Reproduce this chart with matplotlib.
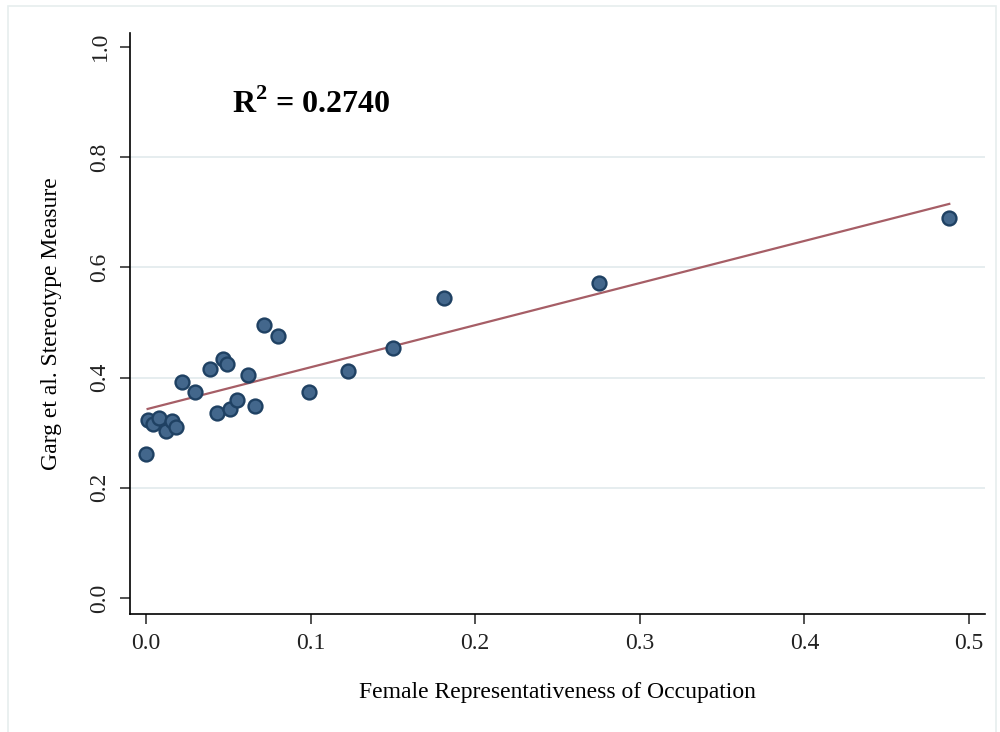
import matplotlib
matplotlib.use("Agg")
import matplotlib.pyplot as plt
from matplotlib.patches import Rectangle

# Data
female_share = [0.000, 0.001, 0.004, 0.008, 0.012, 0.016, 0.018, 0.022, 0.030,
                0.039, 0.043, 0.047, 0.049, 0.051, 0.055, 0.062, 0.066, 0.072,
                0.080, 0.099, 0.123, 0.150, 0.181, 0.275, 0.488]
stereotype = [0.261, 0.323, 0.316, 0.327, 0.303, 0.321, 0.310, 0.392, 0.374,
              0.416, 0.336, 0.434, 0.425, 0.343, 0.359, 0.405, 0.348, 0.495,
              0.475, 0.374, 0.412, 0.454, 0.544, 0.572, 0.690]
fit_x = [0.001, 0.488]
fit_y = [0.343, 0.715]
x_ticks = [0.0, 0.1, 0.2, 0.3, 0.4, 0.5]
y_ticks = [0.0, 0.2, 0.4, 0.6, 0.8, 1.0]
grid_y = [0.2, 0.4, 0.6, 0.8]

plt.rcParams['font.family'] = ['Liberation Serif', 'DejaVu Serif']
plt.rcParams['mathtext.fontset'] = 'custom'
plt.rcParams['mathtext.rm'] = 'Liberation Serif'
plt.rcParams['mathtext.bf'] = 'Liberation Serif:bold'

fig = plt.figure(figsize=(10, 7.32), dpi=100)
fig.patches.append(Rectangle((8/1000, -0.01), (996-8)/1000, 1 - 6/732 + 0.01,
                             transform=fig.transFigure, fill=False,
                             edgecolor='#e6eeee', linewidth=1.2))

ax = fig.add_axes([0.13, 0.1612, 0.855, 0.7937])
ax.set_xlim(-0.0097, 0.5097)
ax.set_ylim(-0.029, 1.025)

for g in grid_y:
    ax.axhline(g, color='#e4ecee', linewidth=1.3, zorder=0)

ax.plot(fit_x, fit_y, color='#a65e66', linewidth=1.6, zorder=2)
ax.scatter(female_share, stereotype, s=100, color='#43678c',
           edgecolors='#1f4163', linewidths=1.7, zorder=3)

ax.spines['top'].set_visible(False)
ax.spines['right'].set_visible(False)
ax.spines['left'].set_linewidth(1.2)
ax.spines['bottom'].set_linewidth(1.2)

ax.set_xticks(x_ticks)
ax.set_xticklabels([f"{v:.1f}" for v in x_ticks])
ax.set_yticks(y_ticks)
ax.set_yticklabels([f"{v:.1f}" for v in y_ticks], rotation=90, va='center')
ax.tick_params(axis='both', direction='out', length=7, width=1.1,
               labelsize=17, colors='#222222')
ax.tick_params(axis='x', pad=7)
ax.tick_params(axis='y', pad=7)

ax.set_xlabel("Female Representativeness of Occupation", fontsize=17, labelpad=20)
ax.set_ylabel("Garg et al. Stereotype Measure", fontsize=17, labelpad=20)

ax.text(0.052, 0.895, r"R$^{\mathbf{2}}$ = 0.2740", fontsize=23, fontweight='bold',
        ha='left', va='center')

fig.savefig("out.png", dpi=100, facecolor='white')
